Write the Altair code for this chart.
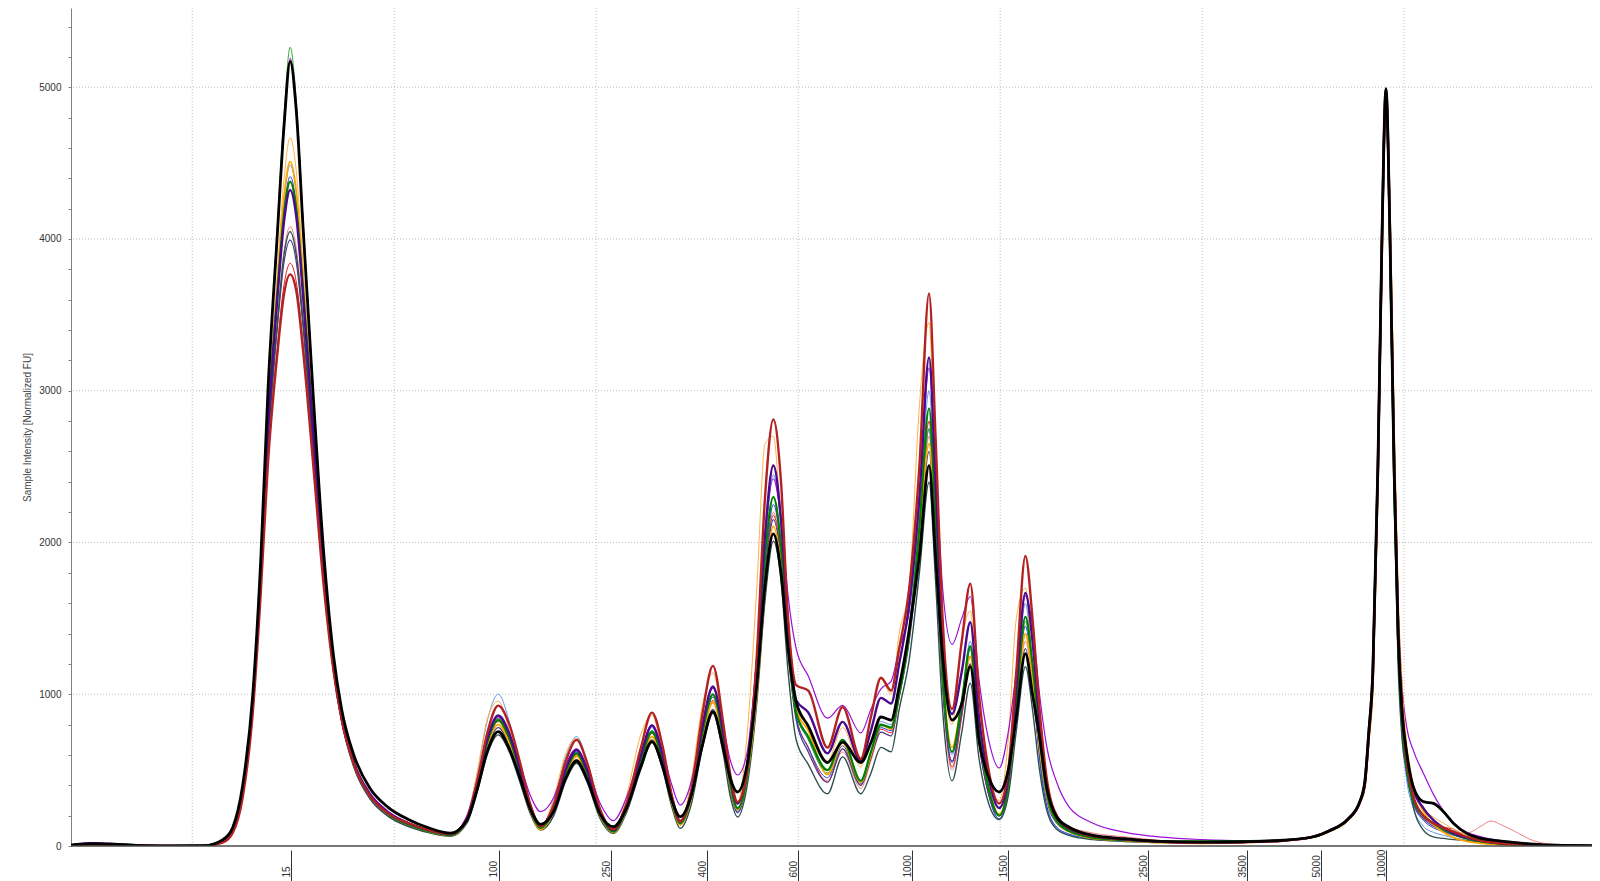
import altair as alt
import pandas as pd

# ---- migration position of every sampled point (x units; gridlines every 10) ----
X_POS = [
    4.0, 5.0, 6.0, 7.5, 9.0, 10.6,
    11.5, 12.0, 12.5, 13.0, 13.4, 13.75, 14.2, 14.55, 14.85, 15.15, 15.5, 16.0, 16.5, 17.0, 17.4,
    18.0, 18.8, 19.7, 20.7, 21.7, 22.8,
    23.6, 24.1, 24.6, 25.15, 25.7, 26.25, 26.75, 27.25,
    27.9, 28.5, 29.03, 29.55, 30.2, 30.85,
    31.5, 32.2, 32.76, 33.3, 33.75, 34.16,
    34.7, 35.25, 35.78, 36.3, 36.65, 37.0,
    37.45, 37.95, 38.36, 38.77, 39.15, 39.5, 39.9, 40.5, 41.45, 42.2, 43.1, 43.6, 44.1, 44.6,
    45.0, 45.5, 46.0, 46.48, 46.8, 47.15, 47.62, 48.1, 48.52, 48.95, 49.43, 49.95,
    50.4, 50.8, 51.25, 51.6, 51.95, 52.3, 52.8, 53.4, 54.6, 56.2, 58.0, 60.0, 62.0, 64.0,
    65.5, 66.3, 67.2, 67.8, 68.05, 68.25, 68.45, 68.7, 68.9, 69.1, 69.3, 69.5, 69.7, 69.9,
    70.13, 70.45, 70.95, 71.45, 71.95, 72.45, 73.1, 73.8, 74.3, 74.8, 75.5, 76.4, 77.5, 79.3,
]

# ---- sample intensities [Normalized FU], one list per trace ----
BLACK = [
    5, 15, 12, 3, 0, 2,
    40, 120, 400, 1000, 1900, 3000, 4000, 4750, 5170, 4850, 4050, 2950, 1950, 1250, 900,
    600, 380, 255, 175, 120, 85,
    170, 370, 620, 754, 640, 440, 240, 143,
    230, 450, 560, 440, 210, 127,
    250, 520, 688, 520, 300, 193,
    330, 660, 886, 640, 440, 356,
    520, 1060, 1717, 2057, 1800, 1300, 950, 790, 550, 684, 550, 680, 850, 830,
    1050, 1425, 1911, 2507, 1911, 1250, 830, 939, 1182, 696, 453, 356,
    500, 850, 1267, 1000, 719, 389, 191, 125, 70, 48, 30, 25, 28, 38,
    61, 101, 175, 292, 420, 750, 1150, 2500, 4000, 4990, 4000, 2500, 1400, 870,
    610, 390, 292, 281, 226, 149, 83, 50, 40, 32, 22, 12, 5, 2,
]
FIREBRICK = [
    3, 10, 8, 2, 0, 1,
    22, 85, 320, 880, 1680, 2520, 3220, 3640, 3767, 3660, 3250, 2500, 1730, 1150, 835,
    540, 330, 215, 150, 105, 80,
    175, 420, 740, 925, 800, 540, 270, 130,
    270, 560, 699, 550, 240, 110,
    280, 640, 879, 650, 330, 160,
    360, 860, 1187, 800, 460, 290,
    480, 1250, 2300, 2810, 2400, 1500, 1060, 1024, 648, 915, 575, 850, 1109, 1024,
    1300, 1700, 2500, 3641, 2700, 1500, 903, 1350, 1729, 1000, 500, 280,
    500, 1150, 1911, 1500, 900, 450, 200, 120, 65, 45, 30, 22, 25, 35,
    60, 100, 172, 285, 400, 720, 1100, 2450, 3950, 4980, 4050, 2600, 1450, 880,
    560, 330, 200, 150, 120, 95, 60, 35, 25, 18, 12, 6, 3, 1,
]
INDIGO = [
    6, 16, 10, 3, 0, 1,
    34, 105, 370, 955, 1800, 2740, 3580, 4120, 4323, 4150, 3610, 2700, 1820, 1175, 840,
    550, 340, 220, 150, 105, 78,
    180, 410, 700, 860, 740, 500, 260, 135,
    260, 510, 633, 500, 225, 105,
    270, 590, 793, 590, 320, 165,
    350, 780, 1051, 740, 440, 280,
    500, 1200, 2050, 2507, 2150, 1450, 960, 880, 611, 818, 562, 760, 976, 939,
    1200, 1600, 2300, 3219, 2400, 1350, 870, 1150, 1474, 850, 450, 250,
    450, 1050, 1668, 1350, 820, 420, 190, 115, 65, 42, 28, 22, 26, 36,
    62, 102, 176, 290, 420, 760, 1160, 2500, 4000, 4990, 4000, 2550, 1450, 900,
    600, 380, 250, 170, 120, 85, 55, 35, 25, 18, 12, 6, 3, 1,
]
GREEN = [
    4, 12, 14, 5, 1, 3,
    36, 110, 378, 965, 1820, 2770, 3610, 4170, 4378, 4200, 3640, 2720, 1830, 1180, 845,
    545, 335, 212, 142, 98, 72,
    170, 395, 680, 830, 710, 480, 245, 120,
    240, 490, 610, 480, 210, 95,
    250, 560, 750, 555, 300, 150,
    330, 740, 1000, 700, 400, 250,
    450, 1100, 1900, 2300, 1980, 1350, 880, 720, 500, 700, 430, 620, 800, 780,
    1000, 1400, 2100, 2883, 2150, 1150, 620, 950, 1316, 750, 380, 200,
    400, 950, 1510, 1200, 720, 360, 165, 100, 55, 38, 30, 30, 32, 38,
    60, 98, 170, 285, 400, 730, 1130, 2480, 3980, 4980, 3950, 2450, 1350, 820,
    520, 300, 200, 150, 110, 80, 50, 30, 22, 15, 10, 5, 2, 1,
]
VIOLET = [
    8, 22, 18, 4, 0, 1,
    35, 110, 380, 970, 1870, 2980, 4000, 4780, 5191, 4870, 4080, 2970, 1950, 1230, 870,
    560, 350, 230, 155, 105, 82,
    200, 430, 710, 850, 740, 530, 330, 226,
    320, 540, 640, 520, 280, 167,
    320, 610, 800, 620, 400, 270,
    420, 800, 1040, 780, 560, 468,
    600, 1250, 2050, 2420, 2150, 1650, 1300, 1120, 842, 927, 745, 900, 1036, 1085,
    1300, 1547, 2250, 3150, 2500, 1700, 1328, 1500, 1644, 1100, 700, 514,
    750, 1150, 1650, 1450, 1000, 660, 420, 260, 150, 90, 58, 42, 35, 40,
    60, 100, 172, 290, 420, 770, 1170, 2520, 4020, 4990, 4100, 2700, 1600, 1050,
    780, 632, 480, 340, 230, 149, 90, 61, 45, 34, 26, 15, 6, 2,
]
ORANGE = [
    3, 9, 8, 2, 0, 1,
    35, 110, 380, 970, 1830, 2800, 3680, 4280, 4510, 4320, 3720, 2760, 1850, 1190, 850,
    540, 330, 210, 140, 96, 70,
    165, 385, 660, 800, 680, 455, 230, 110,
    230, 470, 590, 460, 200, 90,
    240, 540, 720, 530, 285, 140,
    310, 700, 950, 670, 380, 240,
    440, 1000, 1700, 2106, 1850, 1300, 900, 760, 470, 680, 420, 600, 800, 770,
    1000, 1400, 2050, 2650, 2050, 1150, 650, 950, 1250, 730, 380, 210,
    400, 900, 1400, 1100, 660, 340, 160, 95, 50, 35, 22, 18, 22, 35,
    58, 96, 168, 280, 380, 690, 1050, 2350, 3850, 4980, 4150, 2750, 1600, 1000,
    650, 400, 230, 140, 90, 55, 30, 18, 12, 8, 5, 3, 2, 1,
]
SANDY = [
    5, 14, 11, 3, 0, 2,
    38, 115, 390, 980, 1850, 2850, 3750, 4400, 4668, 4450, 3800, 2800, 1880, 1200, 860,
    545, 335, 215, 145, 100, 75,
    200, 480, 830, 955, 760, 490, 240, 120,
    320, 610, 710, 520, 220, 100,
    330, 730, 860, 600, 310, 150,
    430, 920, 1140, 760, 430, 290,
    700, 1700, 2650, 2700, 2100, 1350, 900, 800, 560, 780, 520, 850, 1100, 1000,
    1400, 1717, 2900, 3450, 2300, 1200, 800, 1350, 1550, 800, 420, 300,
    700, 1500, 1700, 1150, 650, 330, 160, 100, 60, 45, 30, 22, 25, 36,
    60, 100, 172, 288, 410, 740, 1140, 2490, 3990, 4980, 4050, 2600, 1500, 950,
    620, 380, 250, 190, 150, 110, 70, 40, 28, 20, 13, 6, 3, 1,
]
CORNFLOWER = [
    4, 10, 9, 2, 0, 1,
    38, 115, 385, 975, 1840, 2800, 3670, 4260, 4488, 4300, 3700, 2750, 1840, 1180, 840,
    525, 315, 200, 132, 90, 66,
    195, 470, 820, 1000, 820, 520, 250, 120,
    300, 590, 721, 560, 230, 95,
    260, 590, 780, 575, 300, 150,
    330, 740, 1000, 690, 380, 230,
    450, 1100, 1950, 2446, 2100, 1400, 880, 700, 480, 700, 430, 620, 820, 800,
    1050, 1450, 2150, 3000, 2200, 1150, 600, 950, 1350, 750, 350, 180,
    380, 980, 1600, 1150, 580, 260, 120, 75, 45, 32, 24, 20, 24, 35,
    60, 98, 170, 285, 400, 730, 1130, 2480, 3980, 4970, 3900, 2350, 1250, 720,
    430, 250, 130, 90, 70, 55, 40, 30, 22, 16, 10, 5, 2, 1,
]
BLUE = [
    3, 8, 10, 3, 0, 1,
    36, 112, 380, 970, 1830, 2780, 3630, 4200, 4411, 4230, 3660, 2730, 1830, 1180, 840,
    530, 320, 205, 136, 93, 68,
    170, 400, 690, 840, 710, 470, 235, 110,
    240, 495, 620, 485, 210, 95,
    250, 570, 760, 560, 290, 140,
    320, 725, 980, 680, 370, 220,
    430, 1050, 1800, 2250, 1950, 1320, 850, 650, 450, 660, 410, 590, 780, 760,
    1000, 1400, 2050, 2750, 2050, 1100, 550, 900, 1300, 720, 340, 180,
    370, 920, 1450, 1100, 580, 270, 125, 80, 48, 34, 25, 20, 24, 35,
    60, 98, 170, 286, 405, 740, 1140, 2490, 3990, 4980, 3950, 2450, 1300, 760,
    470, 280, 170, 120, 95, 70, 48, 32, 24, 17, 10, 5, 2, 1,
]
RED = [
    2, 6, 7, 2, 0, 1,
    25, 90, 330, 900, 1700, 2550, 3270, 3700, 3840, 3720, 3300, 2530, 1740, 1150, 830,
    535, 325, 205, 140, 100, 80,
    160, 385, 670, 820, 700, 470, 240, 115,
    235, 480, 600, 470, 210, 95,
    245, 555, 740, 550, 295, 150,
    320, 710, 960, 675, 385, 240,
    450, 1050, 1780, 2179, 1900, 1300, 850, 650, 420, 640, 400, 580, 770, 745,
    1000, 1380, 2050, 2800, 2050, 1080, 520, 850, 1200, 680, 340, 200,
    400, 900, 1400, 1100, 680, 360, 175, 110, 65, 45, 30, 22, 25, 36,
    62, 100, 176, 295, 400, 710, 1090, 2440, 3940, 4980, 4050, 2600, 1450, 900,
    560, 320, 200, 150, 125, 110, 60, 35, 25, 18, 12, 6, 3, 1,
]
CORAL = [
    3, 7, 6, 2, 0, 1,
    30, 100, 350, 930, 1760, 2650, 3430, 3920, 4081, 3940, 3470, 2620, 1780, 1160, 830,
    550, 345, 225, 155, 110, 88,
    160, 380, 660, 800, 690, 465, 240, 120,
    235, 470, 590, 465, 210, 100,
    240, 540, 720, 535, 290, 150,
    310, 695, 940, 660, 375, 230,
    440, 1040, 1790, 2200, 1910, 1310, 860, 640, 430, 620, 380, 560, 750, 725,
    980, 1370, 2000, 2700, 2000, 1050, 500, 860, 1250, 700, 340, 200,
    400, 880, 1350, 1080, 680, 370, 190, 130, 85, 60, 35, 22, 25, 36,
    64, 104, 180, 300, 420, 750, 1150, 2500, 4000, 4980, 4000, 2550, 1400, 850,
    540, 310, 190, 140, 115, 95, 85, 130, 165, 140, 95, 35, 10, 3,
]
SLATEGRAY = [
    4, 12, 9, 2, 0, 1,
    36, 110, 375, 960, 1780, 2660, 3420, 3900, 4048, 3900, 3440, 2600, 1770, 1150, 820,
    520, 310, 195, 128, 88, 64,
    150, 350, 600, 732, 620, 410, 210, 105,
    200, 430, 545, 420, 180, 83,
    220, 500, 681, 500, 255, 116,
    270, 640, 875, 600, 320, 191,
    380, 940, 1620, 2008, 1750, 1150, 700, 538, 344, 587, 344, 480, 650, 620,
    900, 1230, 1800, 2397, 1750, 900, 429, 750, 1073, 580, 280, 174,
    330, 760, 1182, 900, 500, 240, 110, 70, 42, 30, 22, 20, 25, 35,
    60, 98, 170, 285, 400, 730, 1130, 2480, 3980, 4980, 3900, 2300, 1200, 700,
    500, 259, 105, 60, 50, 42, 35, 28, 20, 14, 9, 5, 2, 1,
]
SLATEBLUE = [
    5, 13, 10, 3, 0, 1,
    34, 105, 365, 950, 1770, 2630, 3390, 3850, 3993, 3850, 3400, 2580, 1760, 1150, 820,
    530, 320, 205, 138, 95, 70,
    160, 370, 640, 780, 660, 440, 225, 115,
    220, 455, 570, 445, 195, 90,
    235, 520, 700, 515, 275, 140,
    300, 665, 900, 630, 355, 220,
    420, 1000, 1740, 2150, 1880, 1280, 830, 620, 420, 640, 400, 580, 750, 725,
    980, 1350, 1950, 2600, 1950, 1050, 560, 880, 1200, 680, 340, 200,
    380, 850, 1300, 1020, 620, 310, 150, 95, 55, 38, 26, 20, 24, 35,
    60, 98, 170, 286, 405, 740, 1140, 2490, 3990, 4980, 3950, 2450, 1320, 780,
    480, 290, 180, 130, 100, 75, 50, 33, 24, 17, 10, 5, 2, 1,
]
LIME = [
    4, 11, 9, 2, 0, 1,
    40, 115, 390, 980, 1880, 3000, 4050, 4830, 5264, 4920, 4100, 2980, 1960, 1240, 880,
    555, 345, 222, 148, 102, 76,
    170, 400, 690, 840, 715, 480, 250, 125,
    240, 490, 610, 480, 215, 100,
    250, 565, 760, 560, 300, 150,
    330, 735, 990, 695, 400, 250,
    450, 1100, 1900, 2300, 1990, 1350, 880, 700, 480, 700, 420, 610, 790, 780,
    1000, 1400, 2050, 2750, 2080, 1130, 620, 960, 1320, 750, 380, 210,
    400, 940, 1480, 1180, 700, 350, 165, 100, 55, 38, 28, 24, 27, 37,
    60, 98, 170, 285, 400, 730, 1130, 2480, 3980, 4980, 3950, 2450, 1350, 820,
    520, 300, 200, 150, 110, 80, 50, 30, 22, 15, 10, 5, 2, 1,
]

# ---- ladder sizes on the x axis ----
LADDER_POS = [14.9, 25.17, 30.74, 35.5, 40.0, 45.64, 50.4, 57.33, 62.23, 65.89, 69.11]
LADDER_BP = ["15", "100", "250", "400", "600", "1000", "1500", "2500", "3500", "5000", "10000"]

GRID_X = [10, 20, 30, 40, 50, 60, 70]
GRID_Y = [1000, 2000, 3000, 4000, 5000]
Y_TICKS = [0, 200, 400, 600, 800, 1000, 1200, 1400, 1600, 1800, 2000, 2200, 2400, 2600,
           2800, 3000, 3200, 3400, 3600, 3800, 4000, 4200, 4400, 4600, 4800, 5000, 5200, 5400]

# drawing order (bottom to top) with styles kept apart from the data
TRACES = [
    ("C1", CORAL), ("C2", RED), ("C3", CORNFLOWER), ("C4", BLUE), ("C5", SLATEBLUE),
    ("C6", SLATEGRAY), ("C7", SANDY), ("C8", LIME), ("C9", VIOLET), ("C10", ORANGE),
    ("C11", GREEN), ("C12", INDIGO), ("C13", FIREBRICK), ("C14", BLACK),
]
STYLE = {
    "C1": ("#F08080", 1.0), "C2": ("#E8202A", 1.0), "C3": ("#6495ED", 1.0),
    "C4": ("#2B3FD8", 1.0), "C5": ("#483D8B", 1.2), "C6": ("#2F4F4F", 1.4),
    "C7": ("#FFB347", 1.0), "C8": ("#3DAA3D", 1.0), "C9": ("#9B10D8", 1.2),
    "C10": ("#FFA500", 1.8), "C11": ("#008000", 2.2), "C12": ("#4B0A8C", 2.4),
    "C13": ("#B22222", 2.4), "C14": ("#000000", 2.8),
}

for name, vals in TRACES:
    assert len(vals) == len(X_POS), (name, len(vals), len(X_POS))

FONT = "Liberation Sans"
XSCALE = alt.Scale(domain=[4.0, 79.3], nice=False, zero=False)
YSCALE = alt.Scale(domain=[0, 5522], nice=False, zero=False)

pos_list = "[" + ",".join(repr(v) for v in LADDER_POS) + "]"
lab_list = "[" + ",".join("'" + s + "'" for s in LADDER_BP) + "]"

XAXIS = alt.Axis(
    values=LADDER_POS,
    labelExpr=f"{lab_list}[indexof({pos_list}, datum.value)]",
    grid=False, domain=False, offset=4,
    ticks=True, tickSize=31, tickColor="#333333", tickWidth=1,
    labelAngle=270, labelAlign="left", labelBaseline="bottom",
    labelPadding=-4, labelFont=FONT, labelFontSize=10, labelColor="#333333",
    labelOverlap=False, labelFlush=False,
)
YAXIS = alt.Axis(
    values=Y_TICKS,
    labelExpr="datum.value % 1000 === 0 ? datum.label : ''",
    format="d",
    grid=False, domain=True, domainColor="#808080", domainWidth=1,
    ticks=True, tickSize=3, tickColor="#808080", tickWidth=1,
    labelPadding=7, labelFont=FONT, labelFontSize=10, labelColor="#333333",
    labelOverlap=False, labelFlush=False,
    title="Sample Intensity [Normalized FU]", titleFont=FONT, titleFontSize=10,
    titleFontWeight="normal", titleColor="#444444", titlePadding=6,
)


def xenc():
    return alt.X("pos:Q", scale=XSCALE, axis=XAXIS, title=None)


def yenc():
    return alt.Y("fu:Q", scale=YSCALE, axis=YAXIS)


grid_x = alt.Chart(pd.DataFrame({"pos": GRID_X})).mark_rule(
    color="#BDBDBD", strokeWidth=1, strokeDash=[1, 2]
).encode(x=xenc())
grid_y = alt.Chart(pd.DataFrame({"fu": GRID_Y})).mark_rule(
    color="#BDBDBD", strokeWidth=1, strokeDash=[1, 2]
).encode(y=yenc())

layers = [grid_x, grid_y]
for name, vals in TRACES:
    color, width = STYLE[name]
    df = pd.DataFrame({"pos": X_POS, "fu": vals})
    layers.append(
        alt.Chart(df).mark_line(
            interpolate="monotone", color=color, strokeWidth=width, clip=True
        ).encode(x=xenc(), y=yenc())
    )

baseline = alt.Chart(pd.DataFrame({"fu": [0]})).mark_rule(
    color="#4A4A4A", strokeWidth=1.4
).encode(y=yenc())
layers.append(baseline)

chart = alt.layer(*layers).properties(
    width=1521, height=838,
    autosize=alt.AutoSizeParams(type="none"),
    padding={"left": 63, "top": 0, "right": 0, "bottom": 35},
    background="#FFFFFF",
).configure_view(stroke=None)

chart.save("out.html", embed_options={"renderer": "svg", "actions": False})
